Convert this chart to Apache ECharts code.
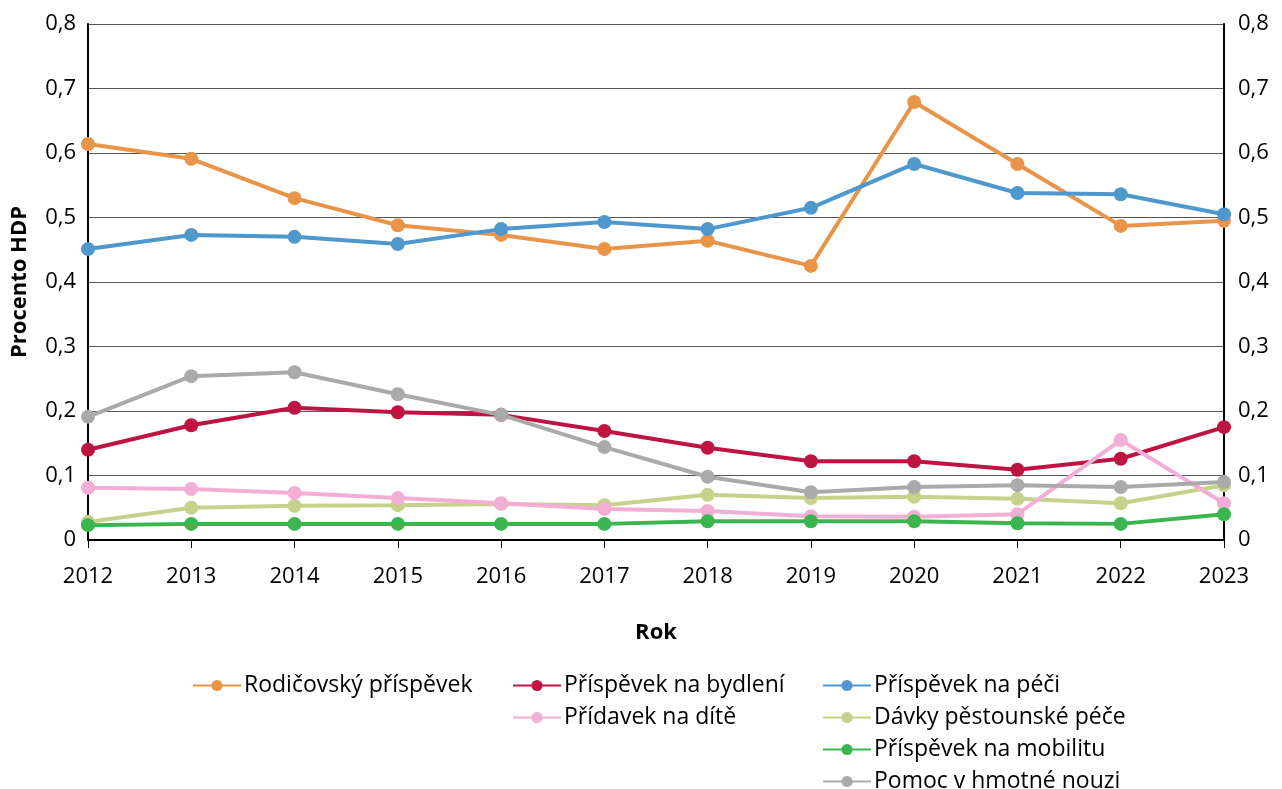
<!DOCTYPE html>
<html><head><meta charset="utf-8">
<script src="https://cdn.jsdelivr.net/npm/echarts@6/dist/echarts.min.js"></script>
<style>html,body{margin:0;padding:0;background:#fff}#c{width:1282px;height:789px}</style>
</head><body><div id="c"></div>
<script>
const years = ['2012','2013','2014','2015','2016','2017','2018','2019','2020','2021','2022','2023'];
const rodicovsky = [0.614,0.591,0.530,0.488,0.473,0.451,0.464,0.425,0.679,0.583,0.487,0.495];
const pece = [0.451,0.473,0.470,0.459,0.482,0.493,0.482,0.515,0.583,0.538,0.536,0.505];
const bydleni = [0.140,0.178,0.205,0.198,0.194,0.169,0.143,0.122,0.122,0.109,0.126,0.175];
const pestounske = [0.028,0.050,0.053,0.054,0.056,0.054,0.070,0.065,0.067,0.064,0.057,0.085];
const pridavek = [0.081,0.079,0.073,0.065,0.057,0.048,0.045,0.037,0.036,0.040,0.155,0.057];
const mobilita = [0.023,0.025,0.025,0.025,0.025,0.025,0.029,0.029,0.029,0.026,0.025,0.040];
const nouze = [0.191,0.254,0.260,0.226,0.194,0.144,0.098,0.074,0.082,0.085,0.082,0.090];

const names = {
  rod:'Rodičovský příspěvek', byd:'Příspěvek na bydlení', pec:'Příspěvek na péči',
  pri:'Přídavek na dítě', pes:'Dávky pěstounské péče', mob:'Příspěvek na mobilitu', nou:'Pomoc v hmotné nouzi'
};
const FONT = 'Open Sans';
function s(name, data, color){
  return {name, type:'line', data, color, symbol:'circle', symbolSize:14,
    lineStyle:{width:4,color}, itemStyle:{color}, animation:false};
}
const fmt = v => v === 0 ? '0' : v.toFixed(1).replace('.', ',');
const legendBase = {orient:'vertical', itemWidth:48, itemHeight:14, itemGap:9, padding:0, height:140,
  textStyle:{fontFamily:FONT, fontSize:23, color:'#000', padding:[0,0,0,-2]}};
const chart = echarts.init(document.getElementById('c'));
chart.setOption({
  animation:false,
  grid:{left:88, right:58, top:24, bottom:249, containLabel:false, outerBoundsMode:'none'},
  xAxis:{type:'category', data:years, boundaryGap:false,
    name:'Rok', nameLocation:'middle', nameGap:82,
    nameTextStyle:{fontFamily:FONT, fontSize:22, fontWeight:'bold', color:'#000'},
    axisLine:{lineStyle:{color:'#000', width:2}},
    axisTick:{show:true, length:8, lineStyle:{color:'#000'}},
    axisLabel:{fontFamily:FONT, fontSize:22, color:'#000', margin:26},
    splitLine:{show:false}},
  yAxis:[
    {type:'value', min:0, max:0.8, interval:0.1, position:'left',
     name:'Procento HDP', nameLocation:'middle', nameGap:57, nameRotate:90,
     nameTextStyle:{fontFamily:FONT, fontSize:22, fontWeight:'bold', color:'#000'},
     axisLine:{show:true, lineStyle:{color:'#000', width:2}}, axisTick:{show:false},
     axisLabel:{fontFamily:FONT, fontSize:22, color:'#000', formatter:fmt, margin:12},
     splitLine:{lineStyle:{color:'#555', width:1}}},
    {type:'value', min:0, max:0.8, interval:0.1, position:'right',
     axisLine:{show:true, lineStyle:{color:'#000', width:2}}, axisTick:{show:false},
     axisLabel:{fontFamily:FONT, fontSize:22, color:'#000', formatter:fmt, margin:14},
     splitLine:{show:false}}
  ],
  legend:[
    Object.assign({left:192, top:674, data:[names.rod]}, legendBase),
    Object.assign({left:512, top:674, data:[names.byd, names.pri]}, legendBase),
    Object.assign({left:822, top:674, data:[names.pec, names.pes, names.mob, names.nou]}, legendBase)
  ],
  series:[
    s(names.rod, rodicovsky, '#E8954A'),
    s(names.pec, pece, '#4E98CE'),
    s(names.byd, bydleni, '#BE1441'),
    s(names.pes, pestounske, '#C6D28A'),
    s(names.pri, pridavek, '#F2AED4'),
    s(names.mob, mobilita, '#3BB54F'),
    s(names.nou, nouze, '#AAAAAA')
  ]
});
</script></body></html>
